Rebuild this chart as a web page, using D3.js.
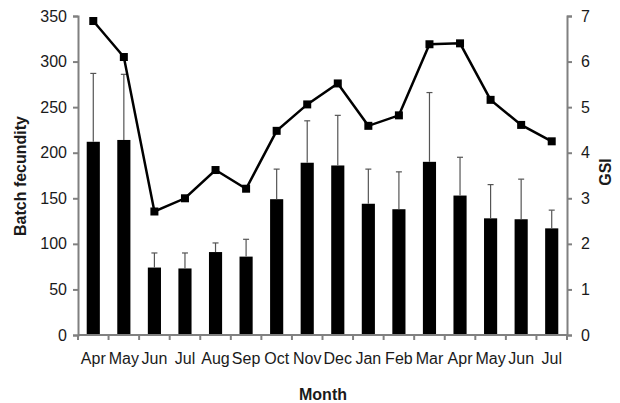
<!DOCTYPE html>
<html>
<head>
<meta charset="utf-8">
<script src="https://cdn.jsdelivr.net/npm/d3@7"></script>
<style>
  html, body { margin: 0; padding: 0; background: #fff; }
  svg { display: block; }
  svg text { font-family: "Liberation Sans", Arial, sans-serif; }
</style>
</head>
<body>
<svg id="chart" width="620" height="403"></svg>
<script>
// Monthly batch fecundity (bars, mean + SD) and gonadosomatic index (line)
const months = ["Apr","May","Jun","Jul","Aug","Sep","Oct","Nov","Dec","Jan","Feb","Mar","Apr","May","Jun","Jul"];
const fecundity = [212, 214, 74, 73, 91, 86, 149, 189, 186, 144, 138, 190, 153, 128, 127, 117];
const fecundityUpper = [287, 286, 90, 90, 101, 105, 182, 235, 241, 182, 179, 266, 195, 165, 171, 137];
const gsi = [6.89, 6.10, 2.71, 3.00, 3.62, 3.21, 4.48, 5.06, 5.52, 4.59, 4.82, 6.38, 6.40, 5.16, 4.61, 4.25];
const leftTicks = [0, 50, 100, 150, 200, 250, 300, 350];
const rightTicks = [0, 1, 2, 3, 4, 5, 6, 7];

const svg = d3.select("#chart");
const plotLeft = 78, plotRight = 567, plotTop = 16, plotBottom = 335;
const axisColor = "#808080";
const textColor = "#1a1a1a";

const x = d3.scaleBand().domain(d3.range(months.length)).range([plotLeft, plotRight]).paddingInner(0.57).paddingOuter(0.285);
const xOuter = d3.scaleBand().domain(d3.range(months.length)).range([plotLeft, plotRight]);
const yL = d3.scaleLinear().domain([0, 350]).range([plotBottom, plotTop]);
const yR = d3.scaleLinear().domain([0, 7]).range([plotBottom, plotTop]);

// bars
svg.append("g").selectAll("rect").data(fecundity).join("rect")
  .attr("x", (d, i) => x(i))
  .attr("width", x.bandwidth())
  .attr("y", d => yL(d))
  .attr("height", d => yL(0) - yL(d))
  .attr("fill", "#000");

// upper error bars
const err = svg.append("g").attr("stroke", "#555").attr("stroke-width", 1.2);
fecundityUpper.forEach((u, i) => {
  const cx = x(i) + x.bandwidth() / 2;
  err.append("line").attr("x1", cx).attr("x2", cx).attr("y1", yL(fecundity[i])).attr("y2", yL(u));
  err.append("line").attr("x1", cx - 3).attr("x2", cx + 3).attr("y1", yL(u)).attr("y2", yL(u));
});

// GSI line
const cxOf = i => x(i) + x.bandwidth() / 2;
svg.append("path").datum(gsi)
  .attr("fill", "none").attr("stroke", "#000").attr("stroke-width", 2.5)
  .attr("d", d3.line().x((d, i) => cxOf(i)).y(d => yR(d)));
svg.append("g").selectAll("rect").data(gsi).join("rect")
  .attr("x", (d, i) => cxOf(i) - 4).attr("y", d => yR(d) - 4)
  .attr("width", 8).attr("height", 8).attr("fill", "#000");

// axes
function styleAxis(g) {
  g.attr("font-size", null).attr("font-family", null);
  g.selectAll(".domain").attr("stroke", axisColor).attr("stroke-width", 2);
  g.selectAll(".tick line").attr("stroke", axisColor).attr("stroke-width", 2);
  g.selectAll(".tick text").attr("fill", textColor).style("font-size", "16px");
}

svg.append("g").attr("transform", `translate(${plotLeft},0)`)
  .call(d3.axisLeft(yL).tickValues(leftTicks).tickSize(5).tickSizeOuter(5).tickPadding(6))
  .call(styleAxis);

svg.append("g").attr("transform", `translate(${plotRight},0)`)
  .call(d3.axisRight(yR).tickValues(rightTicks).tickFormat(d3.format("d")).tickSize(5).tickSizeOuter(5).tickPadding(9))
  .call(styleAxis);

// bottom axis: ticks on category boundaries
const xAxis = svg.append("g").attr("transform", `translate(0,${plotBottom})`);
xAxis.append("line").attr("x1", plotLeft).attr("x2", plotRight).attr("stroke", axisColor).attr("stroke-width", 2);
xAxis.selectAll(".bt").data(d3.range(months.length + 1)).join("line")
  .attr("x1", i => plotLeft + i * xOuter.step()).attr("x2", i => plotLeft + i * xOuter.step())
  .attr("y1", 0).attr("y2", 5).attr("stroke", axisColor).attr("stroke-width", 2);
xAxis.selectAll("text").data(months).join("text")
  .attr("x", (d, i) => xOuter(i) + xOuter.bandwidth() / 2)
  .attr("y", 29)
  .attr("text-anchor", "middle")
  .attr("fill", textColor)
  .style("font-size", "16px")
  .text(d => d);

// titles
svg.append("text").attr("transform", "translate(26,176) rotate(-90)")
  .attr("text-anchor", "middle").attr("fill", textColor).style("font-size", "16px").style("font-weight", "bold")
  .text("Batch fecundity");
svg.append("text").attr("transform", "translate(611,172) rotate(-90)")
  .attr("text-anchor", "middle").attr("fill", textColor).style("font-size", "16px").style("font-weight", "bold")
  .text("GSI");
svg.append("text").attr("x", 323).attr("y", 400)
  .attr("text-anchor", "middle").attr("fill", textColor).style("font-size", "16px").style("font-weight", "bold")
  .text("Month");
</script>
</body>
</html>
